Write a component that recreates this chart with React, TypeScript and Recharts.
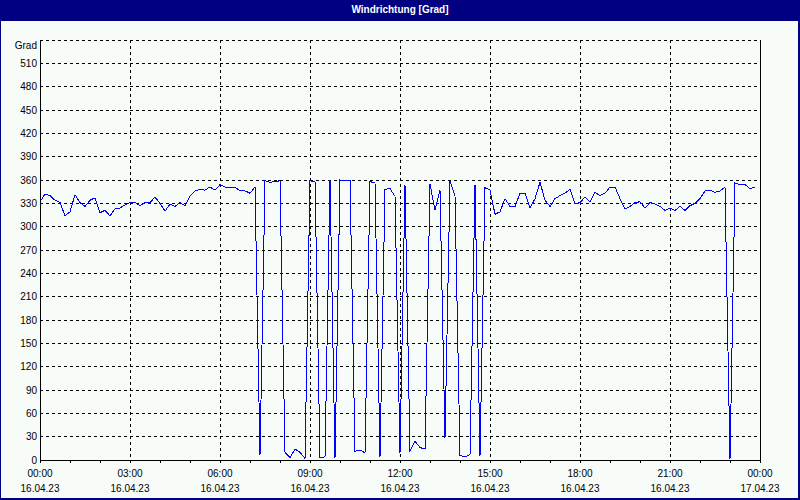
import React from "react";
import { CartesianGrid, Line, LineChart, XAxis, YAxis } from "recharts";

const FONT = "'Liberation Sans', Arial, sans-serif";
const BG = "#F8FCF8";

// wind direction in degrees, one value every 10 minutes, 16.04.23 00:00 .. 23:50
const windDir = [
  332, 342, 340, 334, 331, 314, 319, 341, 331, 326, 334, 337, 318, 321, 314, 323,
  324, 328, 331, 331, 327, 331, 331, 338, 330, 320, 329, 326, 331, 327, 339, 346,
  348, 347, 351, 347, 354, 351, 350, 351, 346, 346, 343, 351, 6, 359, 357, 358,
  359, 10, 3, 14, 10, 2, 359, 358, 3, 4, 360, 2, 360, 359, 360, 11,
  13, 9, 358, 356, 4, 348, 349, 339, 9, 353, 12, 24, 16, 14, 355, 321,
  347, 28, 359, 339, 6, 4, 7, 354, 5, 350, 347, 316, 319, 336, 326, 326,
  343, 343, 324, 336, 357, 334, 326, 336, 340, 343, 348, 329, 331, 338, 332, 344,
  340, 343, 351, 351, 336, 323, 326, 331, 332, 324, 331, 329, 326, 321, 324, 321,
  326, 321, 327, 330, 336, 346, 347, 344, 346, 351, 1, 356, 354, 354, 349, 351,
];
const stepMinutes = 10;

const hourTicks = [
  0, 60, 120, 180, 240, 300, 360, 420, 480, 540, 600, 660, 720,
  780, 840, 900, 960, 1020, 1080, 1140, 1200, 1260, 1320, 1380, 1440,
];
const labelTicks = [0, 180, 360, 540, 720, 900, 1080, 1260, 1440];
const timeLabels = ["00:00", "03:00", "06:00", "09:00", "12:00", "15:00", "18:00", "21:00", "00:00"];
const dateLabels = [
  "16.04.23", "16.04.23", "16.04.23", "16.04.23", "16.04.23",
  "16.04.23", "16.04.23", "16.04.23", "17.04.23",
];

const gradTicks = [0, 30, 60, 90, 120, 150, 180, 210, 240, 270, 300, 330, 360, 390, 420, 450, 480, 510, 540];
const compassTicks = [0, 45, 90, 135, 180, 225, 270, 315, 360, 405, 450, 495, 540];
const compassLabels = ["N", "NE", "E", "SE", "S", "SW", "W", "NW", "N", "NE", "E", "SE", "S"];

const data = windDir.map((v, i) => ({ t: i * stepMinutes, v }));

function TimeTick(props: any) {
  const { x, y, payload } = props;
  const idx = labelTicks.indexOf(payload.value);
  if (idx < 0) return null;
  return (
    <text x={x} y={y} textAnchor="middle" fill="#000" fontSize={10} fontFamily={FONT}>
      <tspan x={x} dy={12}>{timeLabels[idx]}</tspan>
      <tspan x={x} dy={15}>{dateLabels[idx]}</tspan>
    </text>
  );
}

function GradTick(props: any) {
  const { x, y, payload } = props;
  const top = payload.value === 540;
  return (
    <text x={x} y={top ? y + 5 : y} dy="0.355em" textAnchor="end" fill="#000" fontSize={10} fontFamily={FONT}>
      {top ? "Grad" : payload.value}
    </text>
  );
}

export default function App() {
  return (
    <div style={{ position: "absolute", left: 0, top: 0, width: 800, height: 500, background: "#000080" }}>
      <div style={{ position: "absolute", left: 1, top: 21, width: 797, height: 477, background: BG }} />
      <div
        style={{
          position: "absolute", left: 0, top: 0, width: 800, height: 20, lineHeight: "19px",
          textAlign: "center", color: "#fff", fontFamily: FONT, fontWeight: "bold", fontSize: 10,
        }}
      >
        Windrichtung [Grad]
      </div>
      <div style={{ position: "absolute", left: 0, top: 20 }}>
        <LineChart width={800} height={480} data={data} margin={{ top: 20, right: 0, bottom: 0, left: 0 }}>
          <CartesianGrid
            xAxisId="time"
            yAxisId="left"
            stroke="#000"
            strokeDasharray="3 3"
            horizontalValues={gradTicks}
            verticalValues={labelTicks}
            shapeRendering="crispEdges"
          />
          <XAxis
            xAxisId="time"
            dataKey="t"
            type="number"
            domain={[0, 1440]}
            ticks={hourTicks}
            interval={0}
            height={40}
            tickSize={3}
            tickMargin={2}
            tick={TimeTick}
            axisLine={{ stroke: "#000", shapeRendering: "crispEdges" }}
            tickLine={{ stroke: "#000", shapeRendering: "crispEdges" }}
          />
          <XAxis
            xAxisId="top"
            orientation="top"
            type="number"
            domain={[0, 1440]}
            height={0}
            tick={false}
            tickLine={false}
            axisLine={{ stroke: "#000", shapeRendering: "crispEdges" }}
          />
          <YAxis
            yAxisId="left"
            type="number"
            domain={[0, 540]}
            ticks={gradTicks}
            interval={0}
            width={40}
            tickSize={0}
            tickMargin={3}
            tickLine={false}
            tick={GradTick}
            axisLine={{ stroke: "#000", shapeRendering: "crispEdges" }}
          />
          <YAxis
            yAxisId="right"
            orientation="right"
            type="number"
            domain={[0, 540]}
            ticks={compassTicks}
            interval={0}
            width={40}
            tickSize={3}
            tickMargin={2}
            tickFormatter={(v: number) => compassLabels[compassTicks.indexOf(v)]}
            tick={{ fill: "#000", fontSize: 10, fontFamily: FONT }}
            tickLine={{ stroke: "#000", shapeRendering: "crispEdges" }}
            axisLine={{ stroke: "#000", shapeRendering: "crispEdges" }}
          />
          <Line
            xAxisId="time"
            yAxisId="left"
            type="linear"
            dataKey="v"
            stroke="#0000FF"
            strokeWidth={1}
            shapeRendering="crispEdges"
            dot={false}
            activeDot={false}
            isAnimationActive={false}
          />
        </LineChart>
      </div>
    </div>
  );
}
